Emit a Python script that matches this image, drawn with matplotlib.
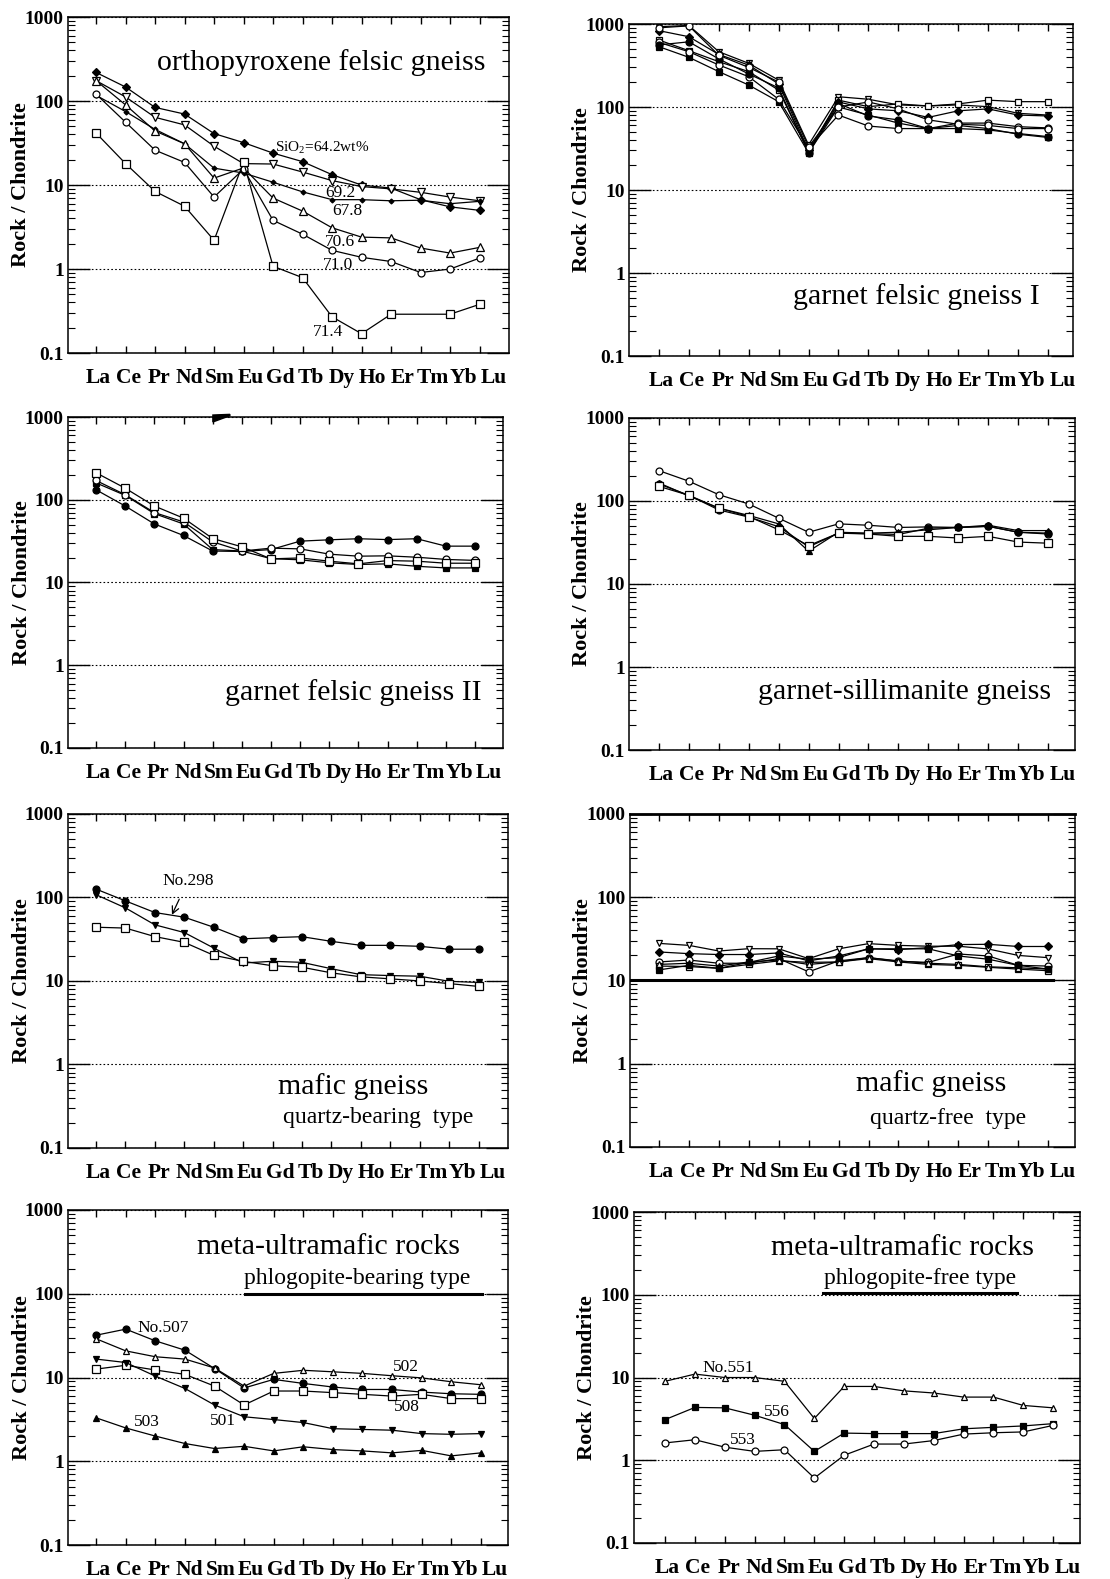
import numpy as np
import matplotlib
matplotlib.use("Agg")
import matplotlib.pyplot as plt
from matplotlib.ticker import LogLocator, NullFormatter
from matplotlib.transforms import blended_transform_factory, ScaledTranslation

plt.rcParams['font.family'] = 'Liberation Serif'
plt.rcParams['mathtext.fontset'] = 'custom'
plt.rcParams['mathtext.rm'] = 'Liberation Serif'
plt.rcParams['mathtext.it'] = 'Liberation Serif:italic'

ree = ['La', 'Ce', 'Pr', 'Nd', 'Sm', 'Eu', 'Gd', 'Tb', 'Dy', 'Ho', 'Er', 'Tm', 'Yb', 'Lu']
x = np.arange(len(ree))
nan = np.nan

# orthopyroxene felsic gneiss, samples named by SiO2 wt%
opx_642 = [219, 147, 84, 70, 41, 32, 24, 19, 13.3, 10, 9.2, 6.7, 5.5, 5.0]
opx_692 = [175, 112, 64, 52, 29, 18, 17.8, 14.3, 11.3, 9.6, 9.0, 8.2, 7.2, 6.5]
opx_678 = [117, 75, 46, 31, 15.9, 13.9, 10.8, 8.3, 6.7, 6.7, 6.5, 6.6, 6.0, 6.4]
opx_706 = [175, 90, 44, 31, 12.1, 16, 7.0, 4.9, 3.1, 2.4, 2.35, 1.78, 1.55, 1.81]
opx_710 = [121, 56, 26, 18.6, 7.2, 15.5, 3.8, 2.6, 1.67, 1.38, 1.23, 0.91, 1.0, 1.35]
opx_714 = [41.6, 18, 8.4, 5.6, 2.2, 18.8, 1.08, 0.79, 0.27, 0.17, 0.29, nan, 0.29, 0.38]

# garnet felsic gneiss I
gfg1_a = [929, 960, 464, 336, 211, 35, 133, 124, 106, 103, 106, 101, 84, 80]
gfg1_b = [641, 477, 352, 267, 160, 29, 121, 101, 109, 103, 109, 121, 116, 116]
gfg1_c = [533, 397, 267, 184, 116, 28, 100, 80, 64, 55, 55, 53, 48, 44]
gfg1_d = [600, 464, 321, 232, 124, 32, 80, 59, 55, 55, 64, 64, 58, 56]
gfg1_e = [831, 703, 430, 320, 190, 30, 115, 95, 90, 75, 90, 95, 80, 78]
gfg1_f = [560, 610, 380, 250, 170, 28, 110, 78, 70, 55, 60, 55, 47, 43]
gfg1_g = [900, 950, 420, 300, 200, 33, 100, 115, 95, 70, 62, 60, 55, 55]

# garnet felsic gneiss II
gfg2_sq = [212, 138, 84, 60, 34, 27, 19.3, 19.8, 18.1, 16.8, 18.4, 18.1, 17.1, 17.1]
gfg2_ci = [171, 115, 70, 54, 31, 24, 26, 25.5, 22, 20.8, 21, 20.2, 19, 18.5]
gfg2_fc = [132, 84, 51, 37, 24, 23.7, 25, 31.6, 32.8, 33.8, 33, 33.8, 27.5, 27.5]
gfg2_fs = [160, 113, 68, 51, 25, 24, 19.4, 18.8, 17.3, 16.5, 16.8, 15.7, 15, 15]

# garnet-sillimanite gneiss
gsg_oc = [232, 173, 119, 92, 62, 42, 53, 51, 48, 48.7, 48, 49.5, 42, 40]
gsg_ft = [165, 115, 82, 67, 53, 24.8, 42, 41, 42, 45, 48, 51, 44, 44]
gsg_fc = [160, 117, 78, 64, 49, 28, 41, 40.5, 39.5, 47, 48, 49.5, 42, 41]
gsg_os = [150, 117, 82, 65, 45, 29, 41, 40, 37.5, 37.5, 35.8, 37.5, 32, 31]

# mafic gneiss, quartz-bearing
mgq_298 = [126, 91, 66, 58, 44, 32, 33, 33.9, 29.8, 26.7, 26.7, 26, 24, 24]
mgq_tri = [108, 75, 47, 38, 24.8, 16.4, 17.2, 16.7, 14, 11.9, 11.6, 11.4, 9.9, 9.6]
mgq_sq = [44, 43, 34, 29, 20.3, 17.2, 15.2, 14.6, 12.5, 11.2, 10.6, 10, 9.3, 8.6]

# mafic gneiss, quartz-free
mgf_vt = [27.9, 26.4, 22.6, 24.1, 24, 18.3, 24, 27.7, 26.4, 25.8, 25.8, 23.9, 20, 18.8]
mgf_fd = [22, 21, 20.5, 20.5, 21.4, 17.2, 19.7, 24, 23.5, 24.8, 27, 27.2, 25.6, 25.6]
mgf_oc = [16.7, 17.6, 16.1, 16.1, 18.3, 12.7, 17.2, 18.8, 17, 16.5, 20.8, 19.7, 15.2, 14.9]
mgf_os = [14.9, 14.7, 14, 15.6, 17.2, 16.5, 16.7, 18.3, 16.7, 15.6, 15.2, 14.4, 13.7, 13.1]
mgf_ot = [15.6, 16.1, 14.9, 16.7, 17.6, 15.6, 16.7, 18.8, 17.2, 16.1, 15.6, 14.6, 14.2, 13.7]
mgf_fs = [13.4, 15.2, 14, 16.5, 19.7, 18, 18.8, 24, 24, 24, 19.7, 18, 15.2, 13.7]

# meta-ultramafic rocks, phlogopite-bearing
mup_507 = [32, 37.8, 27.4, 21.2, 12.8, 7.5, 9.5, 8.5, 7.7, 7.2, 7.2, 6.7, 6.4, 6.3]
mup_502 = [29, 20.8, 17.7, 16.6, 13, 7.9, 11.2, 12.2, 11.7, 11.2, 10.5, 9.9, 8.9, 8.2]
mup_508 = [12.6, 14, 12.3, 10.9, 7.9, 4.7, 6.9, 6.9, 6.6, 6.3, 6.0, 6.3, 5.6, 5.6]
mup_501 = [16.6, 15.1, 10.4, 7.4, 4.7, 3.4, 3.15, 2.9, 2.45, 2.4, 2.35, 2.14, 2.1, 2.14]
mup_503 = [3.3, 2.5, 2.0, 1.63, 1.42, 1.51, 1.33, 1.49, 1.38, 1.33, 1.26, 1.35, 1.16, 1.26]

# meta-ultramafic rocks, phlogopite-free
muf_551 = [9.0, 11, 10, 10, 9.0, 3.2, 7.8, 7.8, 6.9, 6.5, 5.8, 5.8, 4.6, 4.3]
muf_556 = [3.1, 4.35, 4.3, 3.5, 2.7, 1.28, 2.13, 2.1, 2.1, 2.1, 2.4, 2.5, 2.6, 2.77]
muf_553 = [1.62, 1.77, 1.44, 1.28, 1.34, 0.61, 1.15, 1.57, 1.57, 1.73, 2.07, 2.15, 2.2, 2.64]


def draw(ax, vals, marker, filled, ms=5.0):
    v = np.array(vals, dtype=float)
    ok = ~np.isnan(v)
    ax.plot(x[ok], v[ok], color='black', lw=0.9, marker=marker, ms=ms,
            mfc='black' if filled else 'white', mec='black', mew=0.9, zorder=3)


def setup(ax, xlim):
    ax.set_yscale('log')
    ax.set_ylim(0.1, 1000)
    ax.set_xlim(*xlim)
    ax.set_xticks(x)
    ax.set_xticklabels([])
    # element names are typeset as one line, a little wider than the tick spacing
    trans = blended_transform_factory(ax.transData, ax.transAxes) + \
        ScaledTranslation(0, -0.30, fig.dpi_scale_trans)
    for i, el in enumerate(ree):
        ax.text(0.07 + i * 1.032, 0, el, transform=trans, ha='center', va='baseline',
                fontsize=15.5, fontweight='bold', clip_on=False)
    ax.set_yticks([0.1, 1, 10, 100, 1000])
    ax.set_yticklabels(['0.1', '1', '10', '100', '1000'], fontsize=14, fontweight='bold')
    ax.yaxis.set_minor_locator(LogLocator(base=10, subs=np.arange(2, 10)))
    ax.yaxis.set_minor_formatter(NullFormatter())
    ax.tick_params(axis='y', which='major', direction='in', length=16, width=1,
                   left=True, right=True, pad=3)
    ax.tick_params(axis='y', which='minor', direction='in', length=5, width=0.8,
                   left=True, right=True)
    ax.tick_params(axis='x', which='major', direction='in', length=5, width=1,
                   top=True, bottom=True)
    ax.grid(axis='y', which='major', ls=(0, (1.5, 2)), color='black', lw=0.8)
    for s in ax.spines.values():
        s.set_linewidth(1.1)
    ax.set_ylabel('Rock / Chondrite', fontsize=16, fontweight='bold')
    ax.yaxis.set_label_coords(-0.083, 0.5)


fig = plt.figure(figsize=(11.1, 15.79), dpi=100)

rects = [
    (0.0613, 0.7764, 0.3973, 0.2128), (0.5667, 0.7745, 0.4000, 0.2103),
    (0.0613, 0.5263, 0.3919, 0.2096), (0.5667, 0.5250, 0.4018, 0.2103),
    (0.0613, 0.2730, 0.3964, 0.2115), (0.5676, 0.2736, 0.4009, 0.2109),
    (0.0613, 0.0215, 0.3964, 0.2122), (0.5712, 0.0228, 0.4018, 0.2096),
]
xlims = [(-0.95, 14.0), (-1.0, 13.84), (-0.96, 13.96), (-1.0, 13.9),
         (-0.95, 14.0), (-0.97, 13.9), (-0.95, 13.92), (-1.04, 13.9)]
axs = [fig.add_axes(r) for r in rects]
for ax, xl in zip(axs, xlims):
    setup(ax, xl)

title_kw = dict(fontsize=21.5, ha='center', va='center')
sub_kw = dict(fontsize=17, ha='center', va='center')
lab_kw = dict(fontsize=12.5, ha='center', va='center', zorder=5)

# orthopyroxene felsic gneiss
ax = axs[0]
draw(ax, opx_642, 'D', True, 4.5)
draw(ax, opx_692, 'v', False, 5.5)
draw(ax, opx_678, 'D', True, 2.5)
draw(ax, opx_706, '^', False, 5.5)
draw(ax, opx_710, 'o', False, 5)
draw(ax, opx_714, 's', False, 5.5)
ax.text(0.574, 0.866, 'orthopyroxene felsic gneiss', transform=ax.transAxes, **title_kw)
ax.text(6.08, 27.5, r'SiO$_2$=64.2wt%', fontsize=11, ha='left', va='center', zorder=5)
ax.text(8.28, 8.0, '69.2', **lab_kw)
ax.text(8.52, 4.9, '67.8', **lab_kw)
ax.text(8.28, 2.1, '70.6', **lab_kw)
ax.text(8.21, 1.12, '71.0', **lab_kw)
ax.text(7.88, 0.178, '71.4', **lab_kw)

# garnet felsic gneiss I
ax = axs[1]
draw(ax, gfg1_a, 'v', False, 5)
draw(ax, gfg1_b, 's', False, 5)
draw(ax, gfg1_c, 's', True, 5)
draw(ax, gfg1_d, 'o', False, 5)
draw(ax, gfg1_e, 'D', True, 4)
draw(ax, gfg1_f, 'o', True, 5)
draw(ax, gfg1_g, 'o', False, 5)
ax.text(0.646, 0.178, 'garnet felsic gneiss I', transform=ax.transAxes, **title_kw)

# garnet felsic gneiss II
ax = axs[2]
draw(ax, gfg2_fs, 's', True, 5)
draw(ax, gfg2_fc, 'o', True, 5)
draw(ax, gfg2_ci, 'o', False, 5)
draw(ax, gfg2_sq, 's', False, 5.5)
ax.text(0.655, 0.169, 'garnet felsic gneiss II', transform=ax.transAxes, **title_kw)
ax.fill([0.333, 0.372, 0.372, 0.333], [0.985, 1.004, 1.008, 1.006], color='black',
        transform=ax.transAxes, clip_on=False, zorder=4)

# garnet-sillimanite gneiss
ax = axs[3]
draw(ax, gsg_oc, 'o', False, 5)
draw(ax, gsg_ft, '^', True, 5)
draw(ax, gsg_fc, 'o', True, 5)
draw(ax, gsg_os, 's', False, 5.5)
ax.text(0.617, 0.175, 'garnet-sillimanite gneiss', transform=ax.transAxes, **title_kw)

# mafic gneiss, quartz-bearing type
ax = axs[4]
draw(ax, mgq_298, 'o', True, 5)
draw(ax, mgq_tri, 'v', True, 5)
draw(ax, mgq_sq, 's', False, 5.5)
ax.text(0.648, 0.183, 'mafic gneiss', transform=ax.transAxes, **title_kw)
ax.text(0.705, 0.090, 'quartz-bearing  type', transform=ax.transAxes, **sub_kw)
ax.annotate('No.298', xy=(2.58, 62), xytext=(3.12, 158), fontsize=12.5,
            ha='center', va='center', zorder=5,
            arrowprops=dict(arrowstyle='->', color='black', lw=0.9,
                            shrinkA=6, shrinkB=0))

# mafic gneiss, quartz-free type
ax = axs[5]
draw(ax, mgf_vt, 'v', False, 5)
draw(ax, mgf_fd, 'D', True, 4)
draw(ax, mgf_oc, 'o', False, 5)
draw(ax, mgf_os, 's', False, 4.5)
draw(ax, mgf_ot, '^', False, 4.5)
draw(ax, mgf_fs, 's', True, 4)
ax.axhline(10, xmin=0, xmax=0.95, color='black', lw=2.2, zorder=2)
ax.spines['top'].set_linewidth(2)
ax.text(0.676, 0.192, 'mafic gneiss', transform=ax.transAxes, **title_kw)
ax.text(0.715, 0.087, 'quartz-free  type', transform=ax.transAxes, **sub_kw)

# meta-ultramafic rocks, phlogopite-bearing type
ax = axs[6]
draw(ax, mup_507, 'o', True, 5)
draw(ax, mup_502, '^', False, 5)
draw(ax, mup_508, 's', False, 5.5)
draw(ax, mup_501, 'v', True, 5)
draw(ax, mup_503, '^', True, 5)
ax.text(0.593, 0.890, 'meta-ultramafic rocks', transform=ax.transAxes, **title_kw)
ax.text(0.657, 0.797, 'phlogopite-bearing type', transform=ax.transAxes, **sub_kw)
ax.plot([0.402, 0.941], [0.749, 0.749], color='black', lw=2.2, transform=ax.transAxes)
ax.text(2.27, 39, 'No.507', **lab_kw)
ax.text(10.46, 13.3, '502', **lab_kw)
ax.text(10.49, 4.4, '508', **lab_kw)
ax.text(4.27, 3.0, '501', **lab_kw)
ax.text(1.73, 2.95, '503', **lab_kw)

# meta-ultramafic rocks, phlogopite-free type
ax = axs[7]
draw(ax, muf_551, '^', False, 5)
draw(ax, muf_556, 's', True, 5)
draw(ax, muf_553, 'o', False, 5)
ax.text(0.601, 0.891, 'meta-ultramafic rocks', transform=ax.transAxes, **title_kw)
ax.text(0.641, 0.798, 'phlogopite-free type', transform=ax.transAxes, **sub_kw)
ax.plot([0.424, 0.859], [0.755, 0.755], color='black', lw=2.2, transform=ax.transAxes)
ax.text(2.11, 13.2, 'No.551', **lab_kw)
ax.text(3.75, 3.8, '556', **lab_kw)
ax.text(2.61, 1.74, '553', **lab_kw)

fig.savefig('out.png', dpi=100)
